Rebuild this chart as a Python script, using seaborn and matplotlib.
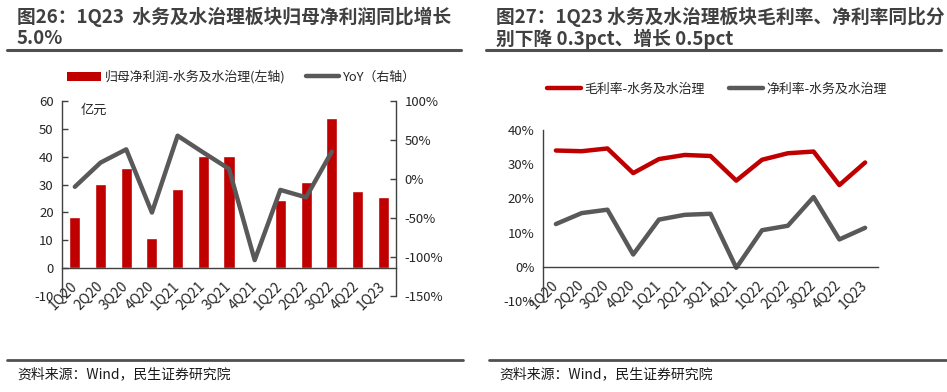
import numpy as np
import pandas as pd
import matplotlib
matplotlib.use("Agg")
import matplotlib.pyplot as plt
from matplotlib.patches import Patch
from matplotlib.lines import Line2D
from matplotlib.ticker import FuncFormatter, FixedLocator
import matplotlib.transforms as mtrans
import seaborn as sns

sns.set_theme(style="white")
plt.rcParams['font.family'] = ['Noto Sans CJK SC', 'DejaVu Sans']
plt.rcParams['axes.unicode_minus'] = False

# ---------------- data ----------------
quarters = ["1Q20", "2Q20", "3Q20", "4Q20", "1Q21", "2Q21", "3Q21", "4Q21",
            "1Q22", "2Q22", "3Q22", "4Q22", "1Q23"]
net_profit = [18.2, 30.2, 35.8, 10.8, 28.4, 40.1, 40.1, -0.3, 24.3, 30.8, 54.0, 27.6, 25.7]
yoy = [-0.10, 0.21, 0.38, -0.43, 0.555, 0.34, 0.13, -1.04, -0.14, -0.235, 0.35, np.nan, np.nan]
gross_margin = [0.340, 0.338, 0.346, 0.274, 0.315, 0.327, 0.324, 0.252, 0.313, 0.332, 0.337, 0.239, 0.305]
net_margin = [0.125, 0.157, 0.167, 0.036, 0.138, 0.152, 0.155, -0.003, 0.107, 0.120, 0.204, 0.080, 0.114]

left_ticks = [-10, 0, 10, 20, 30, 40, 50, 60]
yoy_ticks = [-1.5, -1.0, -0.5, 0.0, 0.5, 1.0]
margin_ticks = [-0.1, 0.0, 0.1, 0.2, 0.3, 0.4]

title1 = "图26：1Q23  水务及水治理板块归母净利润同比增长\n5.0%"
title2 = "图27：1Q23 水务及水治理板块毛利率、净利率同比分\n别下降 0.3pct、增长 0.5pct"
source = "资料来源：Wind，民生证券研究院"
bar_label = "归母净利润-水务及水治理(左轴)"
yoy_label = "YoY（右轴）"
gm_label = "毛利率-水务及水治理"
nm_label = "净利率-水务及水治理"
unit_label = "亿元"

RED = "#C00000"
GRAY = "#595959"
SPINE = "#404040"
TXT = "#262626"

W, H = 947, 392
fig = plt.figure(figsize=(W / 100, H / 100), dpi=100)
fig.patch.set_facecolor("white")

def fx(px):
    return px / W

def fy(py):
    return 1 - py / H

def axes_px(x0, y0, x1, y1):
    return fig.add_axes([fx(x0), fy(y1), fx(x1) - fx(x0), fy(y0) - fy(y1)])

pct = FuncFormatter(lambda v, p: f"{v*100:.0f}%")
TFS = 9.5
LFS = 9.3

def style_xaxis(ax, n):
    ax.spines['bottom'].set_position(('data', 0))
    ax.spines['bottom'].set_color(SPINE)
    ax.spines['bottom'].set_linewidth(1.0)
    ax.set_xlim(-0.5, n - 0.5)
    ax.set_xticks(range(n))
    ax.set_xticklabels(quarters, rotation=45, ha='right', va='top',
                       rotation_mode='anchor', fontsize=10, color=TXT)
    ax.tick_params(axis='x', which='major', length=0, pad=8)
    ax.xaxis.set_minor_locator(FixedLocator([i + 0.5 for i in range(n - 1)]))
    ax.tick_params(axis='x', which='minor', direction='in', length=4,
                   color=SPINE, width=1)
    off = mtrans.ScaledTranslation(-5 / 100, 0, fig.dpi_scale_trans)
    for lab in ax.get_xticklabels():
        lab.set_transform(lab.get_transform() + off)
    ax.set_xlabel("")

# ---------------- left chart ----------------
n = len(quarters)
df1 = pd.DataFrame({"q": quarters, "np": net_profit, "yoy": yoy})
ax1 = axes_px(62, 101, 396, 296)
sns.barplot(data=df1, x="q", y="np", color=RED, width=0.43, ax=ax1,
            saturation=1, order=quarters)
ax1.set_ylim(-10, 60)
ax1.set_yticks(left_ticks)
ax1.tick_params(axis='y', direction='in', length=4, color=SPINE, width=1,
                labelsize=TFS, labelcolor=TXT, pad=6)
for s in ['top', 'right']:
    ax1.spines[s].set_visible(False)
ax1.spines['left'].set_color(SPINE)
ax1.spines['left'].set_linewidth(1.0)
ax1.set_ylabel("")
style_xaxis(ax1, n)
ax1.text(0.055, 0.985, unit_label, transform=ax1.transAxes, fontsize=9.5,
         color=TXT, va='top', ha='left')

ax1r = ax1.twinx()
sns.lineplot(data=df1, x="q", y="yoy", color=GRAY, linewidth=3.2, ax=ax1r,
             legend=False)
ax1r.set_ylim(-1.5, 1.0)
ax1r.set_yticks(yoy_ticks)
ax1r.yaxis.set_major_formatter(pct)
ax1r.tick_params(axis='y', direction='in', length=4, color=SPINE, width=1,
                 labelsize=TFS, labelcolor=TXT, pad=6)
for s in ['top', 'left', 'bottom']:
    ax1r.spines[s].set_visible(False)
ax1r.spines['right'].set_color(SPINE)
ax1r.spines['right'].set_linewidth(1.0)
ax1r.set_ylabel("")
ax1r.set_xlim(-0.5, n - 0.5)

fig.legend(handles=[Patch(facecolor=RED, edgecolor='none', label=bar_label),
                    Line2D([0], [0], color=GRAY, lw=3.2, label=yoy_label)],
           loc='center left', bbox_to_anchor=(fx(67), fy(77)), ncol=2,
           frameon=False, fontsize=LFS, handlelength=2.6, handleheight=0.75,
           handletextpad=0.3, columnspacing=1.6, borderpad=0, borderaxespad=0,
           labelcolor=TXT)

# ---------------- right chart ----------------
df2 = pd.DataFrame({
    "q": quarters * 2,
    "v": gross_margin + net_margin,
    "s": [gm_label] * n + [nm_label] * n,
})
ax2 = axes_px(543, 130, 878, 301)
sns.lineplot(data=df2, x="q", y="v", hue="s", palette=[RED, GRAY],
             linewidth=3.2, ax=ax2, legend=False)
ax2.set_ylim(-0.1, 0.4)
ax2.set_yticks(margin_ticks)
ax2.yaxis.set_major_formatter(pct)
ax2.tick_params(axis='y', direction='in', length=4, color=SPINE, width=1,
                labelsize=TFS, labelcolor=TXT, pad=6)
for s in ['top', 'right']:
    ax2.spines[s].set_visible(False)
ax2.spines['left'].set_color(SPINE)
ax2.spines['left'].set_linewidth(1.0)
ax2.set_ylabel("")
style_xaxis(ax2, n)

fig.legend(handles=[Line2D([0], [0], color=RED, lw=3.2, label=gm_label),
                    Line2D([0], [0], color=GRAY, lw=3.2, label=nm_label)],
           loc='center left', bbox_to_anchor=(fx(547), fy(89)), ncol=2,
           frameon=False, fontsize=LFS, handlelength=2.6,
           handletextpad=0.3, columnspacing=1.9, borderpad=0, borderaxespad=0,
           labelcolor=TXT)

# ---------------- titles, rules, sources ----------------
for x0, x1, t in [(7, 461, title1), (486, 941, title2)]:
    fig.text(fx(x0 + 10), fy(7), t, fontsize=13.5, fontweight='bold',
             color="#404040", va='top', ha='left', linespacing=1.1)
    fig.add_artist(Line2D([fx(x0), fx(x1)], [fy(49.5), fy(49.5)],
                          color="#505050", lw=2.2))
for x0, x1 in [(7, 463), (489, 946)]:
    fig.add_artist(Line2D([fx(x0), fx(x1)], [fy(360), fy(360)],
                          color="#505050", lw=2.0))
    fig.text(fx(x0 + 10), fy(374), source, fontsize=10, color="#1a1a1a",
             va='center', ha='left')

fig.savefig("out.png", dpi=100, facecolor="white")
